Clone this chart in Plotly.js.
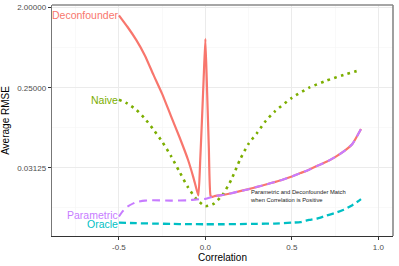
<!DOCTYPE html>
<html>
<head>
<meta charset="utf-8">
<script src="https://cdn.plot.ly/plotly-3.0.1.min.js"></script>
<style>html,body{margin:0;padding:0;background:#fff}#chart{width:399px;height:266px}</style>
</head>
<body>
<div id="chart"></div>
<script>
// Deconfounder
const deconX = [-0.5,-0.45,-0.4,-0.35,-0.3,-0.25,-0.2,-0.15,-0.1,-0.07,-0.05,-0.04,-0.03,-0.02,-0.01,0,0.01,0.02,0.03,0.04,0.05,0.1,0.15,0.2,0.25,0.3,0.35,0.4,0.45,0.5,0.55,0.6,0.65,0.7,0.75,0.8,0.85,0.9];
const deconY = [1.64,1.21,0.865,0.578,0.349,0.213,0.121,0.0694,0.0382,0.0245,0.0175,0.0152,0.0372,0.105,0.315,0.889,0.225,0.0526,0.0151,0.0146,0.0149,0.0154,0.0161,0.0170,0.0179,0.0190,0.0202,0.0215,0.0230,0.0249,0.0272,0.0297,0.0330,0.0364,0.0412,0.0477,0.0579,0.0854];
// Naive
const naiveX = [-0.5,-0.45,-0.4,-0.35,-0.3,-0.25,-0.2,-0.15,-0.1,-0.05,0,0.05,0.1,0.15,0.2,0.25,0.3,0.35,0.4,0.5,0.6,0.7,0.8,0.9];
const naiveY = [0.183,0.165,0.141,0.112,0.084,0.0615,0.0427,0.0282,0.0187,0.0137,0.0115,0.0123,0.0155,0.0229,0.0385,0.0583,0.0776,0.106,0.134,0.192,0.25,0.3,0.349,0.397];
// Oracle
const oracleX = [-0.5,-0.4,-0.3,-0.2,-0.1,0,0.1,0.2,0.3,0.4,0.5,0.55,0.6,0.65,0.7,0.75,0.8,0.85,0.9];
const oracleY = [0.0075,0.00739,0.00732,0.00726,0.00721,0.00719,0.00719,0.00722,0.00728,0.00732,0.0075,0.00762,0.00805,0.0084,0.00903,0.00962,0.0105,0.0118,0.0138];
// Parametric
const paramX = [-0.5,-0.48,-0.45,-0.4,-0.35,-0.3,-0.2,-0.1,-0.05,0,0.05,0.1,0.15,0.2,0.25,0.3,0.35,0.4,0.45,0.5,0.55,0.6,0.65,0.7,0.75,0.8,0.85,0.9];
const paramY = [0.0088,0.0100,0.0114,0.0128,0.0133,0.0134,0.0133,0.0134,0.0137,0.0139,0.0149,0.0154,0.0161,0.0170,0.0179,0.0190,0.0202,0.0215,0.0230,0.0249,0.0272,0.0297,0.0330,0.0364,0.0412,0.0477,0.0579,0.0854];

const yTickVals = [2, 0.25, 0.03125];
const yTickText = ["2.00000", "0.25000", "0.03125"];
const yMinorVals = [0.70711, 0.088388, 0.011049];
const xTickVals = [-0.5, 0, 0.5, 1.0];
const xTickText = ["-0.5", "0.0", "0.5", "1.0"];
const xMinorVals = [-0.75, -0.25, 0.25, 0.75];

const seriesNames = ["Deconfounder", "Naive", "Oracle", "Parametric"];
const colors = ["#F8766D", "#7CAE00", "#00BFC4", "#C77CFF"];
const labelShift = [0, 0, -1.5, 1.5];
const FONT = "Liberation Sans, Arial, sans-serif";

const traces = [
  {x: deconX, y: deconY, mode: "lines", line: {color: colors[0], width: 2.2, shape: "spline", smoothing: 0.45}},
  {x: naiveX, y: naiveY, mode: "lines", line: {color: colors[1], width: 2.6, dash: "2.6px,4.4px", shape: "spline", smoothing: 0.6}},
  {x: oracleX, y: oracleY, mode: "lines", line: {color: colors[2], width: 2.3, dash: "7px,4px", shape: "spline", smoothing: 0.6}},
  {x: paramX, y: paramY, mode: "lines", line: {color: colors[3], width: 2.1, dash: "8px,5px", shape: "spline", smoothing: 0.5}}
].map((t, i) => Object.assign(t, {name: seriesNames[i], showlegend: false, hoverinfo: "skip"}));

const firstY = [deconY[0], naiveY[0], oracleY[0], paramY[0]];
const firstX = [deconX[0], naiveX[0], oracleX[0], paramX[0]];
const annotations = seriesNames.map((n, i) => ({
  x: firstX[i], y: Math.log10(firstY[i]), xref: "x", yref: "y",
  text: n, showarrow: false, xanchor: "right", yanchor: "middle", yshift: labelShift[i],
  borderpad: 0, font: {family: FONT, size: 10.5, color: colors[i]}
}));
annotations.push({
  x: 0.254, y: Math.log10(0.0151), xref: "x", yref: "y", showarrow: false,
  xanchor: "left", yanchor: "middle", align: "left", borderpad: 0,
  text: "Parametric and Deconfounder Match<br>when Correlation is Positive",
  font: {family: FONT, size: 5.8, color: "#1a1a1a"}
});

const layout = {
  width: 399, height: 266,
  margin: {l: 52, r: 6, t: 5, b: 30},
  paper_bgcolor: "#fff", plot_bgcolor: "#fff",
  font: {family: FONT},
  xaxis: {
    range: [-0.887, 1.085], zeroline: false,
    tickmode: "array", tickvals: xTickVals, ticktext: xTickText,
    ticks: "outside", ticklen: 3, tickwidth: 1, tickcolor: "#333",
    tickfont: {family: FONT, size: 8, color: "#4D4D4D"},
    showgrid: true, gridcolor: "#EBEBEB", gridwidth: 1,
    minor: {tickmode: "array", tickvals: xMinorVals, showgrid: true, gridcolor: "#F5F5F5", gridwidth: 0.6, ticks: ""},
    showline: true, linecolor: "#333", linewidth: 1.3,
    title: {text: "Correlation", font: {family: FONT, size: 10, color: "#000"}, standoff: 1}
  },
  yaxis: {
    type: "log", range: [Math.log10(0.0053), Math.log10(2.143)], zeroline: false,
    tickmode: "array", tickvals: yTickVals, ticktext: yTickText,
    ticks: "outside", ticklen: 3, tickwidth: 1, tickcolor: "#333",
    tickfont: {family: FONT, size: 8, color: "#4D4D4D"},
    showgrid: true, gridcolor: "#EBEBEB", gridwidth: 1,
    minor: {tickmode: "array", tickvals: yMinorVals, showgrid: true, gridcolor: "#F5F5F5", gridwidth: 0.6, ticks: ""},
    showline: true, linecolor: "#777", linewidth: 1.3,
    title: {text: "Average RMSE", font: {family: FONT, size: 10, color: "#000"}, standoff: 6}
  },
  shapes: [
    {type: "line", xref: "paper", yref: "paper", x0: 0, x1: 1, y0: 1, y1: 1, line: {color: "#888", width: 1.6}},
    {type: "line", xref: "paper", yref: "paper", x0: 1, x1: 1, y0: 0, y1: 1, line: {color: "#888", width: 1.6}}
  ],
  annotations: annotations
};

Plotly.newPlot("chart", traces, layout, {displayModeBar: false, staticPlot: true});
</script>
</body>
</html>
